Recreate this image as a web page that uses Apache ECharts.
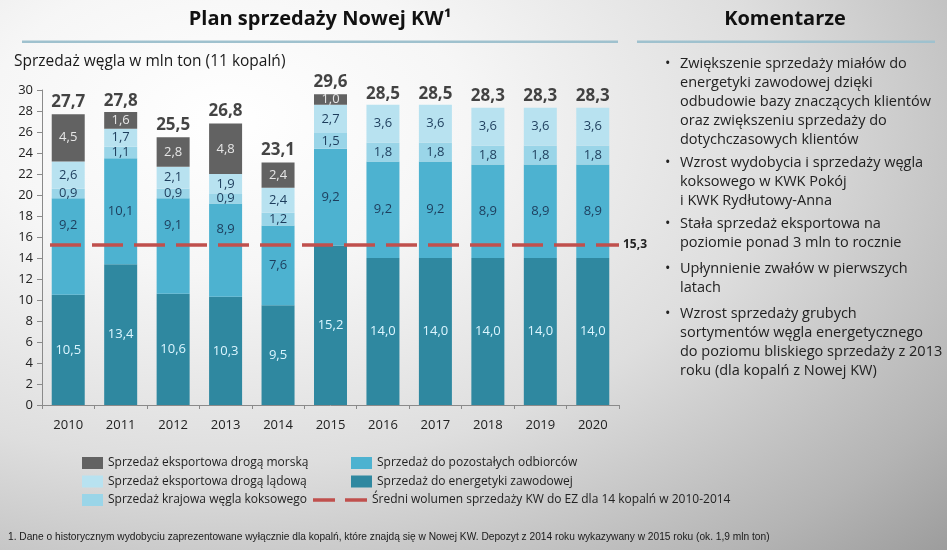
<!DOCTYPE html>
<html>
<head>
<meta charset="utf-8">
<script src="https://cdn.jsdelivr.net/npm/echarts@6/dist/echarts.min.js"></script>
<style>
html,body{margin:0;padding:0;}
#chart{width:947px;height:550px;background:radial-gradient(ellipse 115% 125% at 24% 22%, #ffffff 0%, #f6f6f6 22%, #dedede 50%, #b4b4b4 78%, #8c8c8c 100%);}
</style>
</head>
<body>
<div id="chart"></div>
<script>
// ---- data ----
const years = ['2010','2011','2012','2013','2014','2015','2016','2017','2018','2019','2020'];
const energetykaZawodowa = [10.5, 13.4, 10.6, 10.3, 9.5, 15.2, 14.0, 14.0, 14.0, 14.0, 14.0];
const pozostaliOdbiorcy = [9.2, 10.1, 9.1, 8.9, 7.6, 9.2, 9.2, 9.2, 8.9, 8.9, 8.9];
const krajowyKoksowy = [0.9, 1.1, 0.9, 0.9, 1.2, 1.5, 1.8, 1.8, 1.8, 1.8, 1.8];
const eksportLadowy = [2.6, 1.7, 2.1, 1.9, 2.4, 2.7, 3.6, 3.6, 3.6, 3.6, 3.6];
const eksportMorski = [4.5, 1.6, 2.8, 4.8, 2.4, 1.0, 0, 0, 0, 0, 0];
const totals = [27.7, 27.8, 25.5, 26.8, 23.1, 29.6, 28.5, 28.5, 28.3, 28.3, 28.3];
const avgVolume = 15.3;
const yTicks = [0, 30, 2]; // min, max, interval

const names = {
  morska: 'Sprzedaż eksportowa drogą morską',
  ladowa: 'Sprzedaż eksportowa drogą lądową',
  koks: 'Sprzedaż krajowa węgla koksowego',
  pozost: 'Sprzedaż do pozostałych odbiorców',
  energ: 'Sprzedaż do energetyki zawodowej',
  avg: 'Średni wolumen sprzedaży KW do EZ dla 14 kopalń w 2010-2014'
};

const comments = [
  'Zwiększenie sprzedaży miałów do\nenergetyki zawodowej dzięki\nodbudowie bazy znaczących klientów\noraz zwiększeniu sprzedaży do\ndotychczasowych klientów',
  'Wzrost wydobycia i sprzedaży węgla\nkoksowego w KWK Pokój\ni KWK Rydłutowy-Anna',
  'Stała sprzedaż eksportowa na\npoziomie ponad 3 mln to rocznie',
  'Upłynnienie zwałów w pierwszych\nlatach',
  'Wzrost sprzedaży grubych\nsortymentów węgla energetycznego\ndo poziomu bliskiego sprzedaży z 2013\nroku (dla kopalń z Nowej KW)'
];
const commentTops = [54.5, 153.5, 214.5, 259.5, 304.5];

const fmt = v => (v === 0 || v == null) ? '' : Number(v).toFixed(1).replace('.', ',');
const FONT = '"Open Sans", "DejaVu Sans", sans-serif';

function barSeries(name, data, color, labelColor, base) {
  // labels whose centre would sit on the average line are lifted above it
  const items = data.map((v, i) => {
    if (base) {
      const centre = base[i] + v / 2;
      if (Math.abs(centre - avgVolume) < 1) {
        return { value: v, label: { offset: [0, -21] } };
      }
    }
    return v;
  });
  return {
    name, type: 'bar', stack: 'total', data: items, barWidth: 33,
    itemStyle: { color },
    label: {
      show: true, position: 'inside', fontFamily: FONT, fontSize: 13,
      color: labelColor,
      formatter: p => fmt(p.value)
    }
  };
}

const chart = echarts.init(document.getElementById('chart'), null, { renderer: 'canvas' });

const graphics = [
  { type: 'text', x: 320, y: 19, style: { text: 'Plan sprzedaży Nowej KW¹', font: 'bold 20px ' + FONT, fill: '#111', align: 'center', verticalAlign: 'middle', textAlign: 'center', textVerticalAlign: 'middle' } },
  { type: 'text', x: 785, y: 19, style: { text: 'Komentarze', font: 'bold 20px ' + FONT, fill: '#111', align: 'center', verticalAlign: 'middle', textAlign: 'center', textVerticalAlign: 'middle' } },
  { type: 'rect', shape: { x: 22, y: 40.5, width: 596, height: 2.5 }, style: { fill: '#9fc1ce' } },
  { type: 'rect', shape: { x: 637, y: 40.5, width: 298, height: 2.5 }, style: { fill: '#9fc1ce' } },
  { type: 'text', x: 14, y: 62, style: { text: 'Sprzedaż węgla w mln ton (11 kopalń)', font: '15.5px ' + FONT, fill: '#1a1a1a', align: 'left', verticalAlign: 'middle', textAlign: 'left', textVerticalAlign: 'middle' } },
  { type: 'text', x: 8, y: 537, style: { text: '1. Dane o historycznym wydobyciu zaprezentowane wyłącznie dla kopalń, które znajdą się w Nowej KW. Depozyt z 2014 roku wykazywany w 2015 roku (ok. 1,9 mln ton)', font: '10.2px "Liberation Sans", sans-serif', fill: '#1a1a1a', align: 'left', verticalAlign: 'middle', textAlign: 'left', textVerticalAlign: 'middle' } }
];
comments.forEach((c, i) => {
  graphics.push({ type: 'text', x: 665, y: commentTops[i], style: { text: '•', font: '14.5px ' + FONT, fill: '#222', lineHeight: 19, align: 'left', verticalAlign: 'top', textAlign: 'left', textVerticalAlign: 'top' } });
  graphics.push({ type: 'text', x: 680, y: commentTops[i], style: { text: c, font: '14.5px ' + FONT, fill: '#222', lineHeight: 19, align: 'left', verticalAlign: 'top', textAlign: 'left', textVerticalAlign: 'top' } });
});

const legendText = { fontFamily: FONT, fontSize: 12, color: '#222', lineHeight: 14 };

const option = {
  animation: false,
  backgroundColor: 'transparent',
  textStyle: { fontFamily: FONT },
  grid: { left: 42, right: 328, top: 90, bottom: 145, containLabel: false },
  graphic: graphics,
  legend: [
    { orient: 'vertical', left: 77, top: 451, itemWidth: 21, itemHeight: 12, itemGap: 4.5, icon: 'rect',
      textStyle: legendText, data: [names.morska, names.ladowa, names.koks], selectedMode: false },
    { orient: 'vertical', left: 346, top: 451, itemWidth: 21, itemHeight: 12, itemGap: 4.5, icon: 'rect',
      textStyle: legendText, data: [names.pozost, names.energ], selectedMode: false },
    { orient: 'vertical', left: 308, top: 488, itemWidth: 54, itemHeight: 3.5,
      textStyle: legendText,
      data: [{ name: names.avg, icon: 'path://M0,0H22V3.5H0Z M32,0H54V3.5H32Z' }], selectedMode: false }
  ],
  xAxis: {
    type: 'category', data: years,
    axisLine: { lineStyle: { color: '#8a8a8a', width: 1 } },
    axisTick: { show: true, length: 4, lineStyle: { color: '#8a8a8a' } },
    axisLabel: { fontFamily: FONT, fontSize: 13, color: '#222', margin: 14 }
  },
  yAxis: {
    type: 'value', min: yTicks[0], max: yTicks[1], interval: yTicks[2],
    splitLine: { show: false },
    axisLine: { show: true, lineStyle: { color: '#8a8a8a', width: 1 } },
    axisTick: { show: true, length: 5, lineStyle: { color: '#8a8a8a' } },
    axisLabel: { fontFamily: FONT, fontSize: 13, color: '#222', margin: 9 }
  },
  series: [
    barSeries(names.energ, energetykaZawodowa, '#2f88a0', '#dcf6ff'),
    barSeries(names.pozost, pozostaliOdbiorcy, '#4db2d0', '#1d3d5c', energetykaZawodowa),
    barSeries(names.koks, krajowyKoksowy, '#9ad5e8', '#1d3d5c'),
    barSeries(names.ladowa, eksportLadowy, '#b8e2f0', '#1d3d5c'),
    barSeries(names.morska, eksportMorski, '#626262', '#e6e6e6'),
    {
      name: 'totals', type: 'scatter', data: totals, symbolSize: 1, silent: true, z: 10,
      itemStyle: { color: 'rgba(0,0,0,0)' },
      label: { show: true, position: 'top', distance: 3, fontFamily: FONT, fontSize: 17, fontWeight: 'bold', color: '#151515', formatter: p => fmt(p.value) }
    },
    {
      name: names.avg, type: 'line', data: [], symbol: 'none',
      lineStyle: { color: '#c0504d', width: 3, type: [31, 11] },
      itemStyle: { color: '#c0504d' },
      markLine: {
        silent: true, symbol: ['none', 'none'],
        lineStyle: { color: '#c0504d', width: 3.5, type: [31, 11], dashOffset: 34 },
        label: { show: true, position: 'end', distance: 4, fontFamily: FONT, fontSize: 12, fontWeight: 'bold', color: '#222', formatter: () => fmt(avgVolume) },
        data: [{ yAxis: avgVolume }]
      }
    }
  ]
};
chart.setOption(option);
</script>
</body>
</html>
